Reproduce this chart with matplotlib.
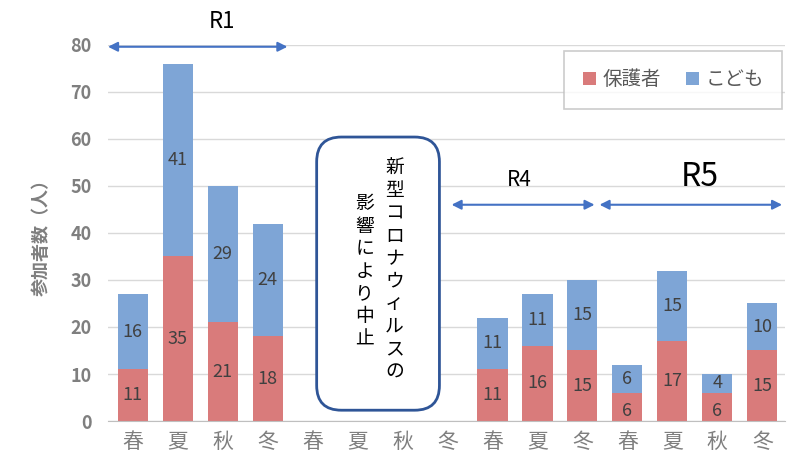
import numpy as np
import matplotlib.pyplot as plt
from matplotlib.patches import FancyBboxPatch

plt.rcParams['font.family'] = ['Noto Sans CJK JP', 'DejaVu Sans']

#%% datos
estaciones = ['春', '夏', '秋', '冬', '春', '夏', '秋', '冬', '春', '夏', '冬', '春', '夏', '秋', '冬']
hogosha = [11, 35, 21, 18, 0, 0, 0, 0, 11, 16, 15, 6, 17, 6, 15]
kodomo = [16, 41, 29, 24, 0, 0, 0, 0, 11, 11, 15, 6, 15, 4, 10]
periodos = ['R1', 'R4', 'R5']
nota = '新型コロナウィルスの影響により中止'

rojo = '#D97B7B'
azul = '#7EA5D6'
gris = '#7F7F7F'
flecha = '#4472C4'

#%% figura
fig = plt.figure(figsize=(8, 4.69), dpi=100)
ax = fig.add_axes([0.135, 0.1023, 0.846, 0.802])

x = np.arange(len(estaciones))
h = np.array(hogosha)
k = np.array(kodomo)
ax.bar(x, h, 0.67, color=rojo, label='保護者', zorder=2)
ax.bar(x, k, 0.67, bottom=h, color=azul, label='こども', zorder=2)

for i in range(len(x)):
    if h[i] > 0:
        ax.text(x[i], h[i] / 2 - 0.8 if h[i] < 8 else h[i] / 2, str(h[i]),
                ha='center', va='center', fontsize=13, color='#404040', zorder=3)
    if k[i] > 0:
        ax.text(x[i], h[i] + k[i] / 2, str(k[i]),
                ha='center', va='center', fontsize=13, color='#404040', zorder=3)

ax.set_xlim(-0.55, 14.5)
ax.set_ylim(0, 80)
ax.set_yticks(range(0, 81, 10))
ax.set_xticks(x)
ax.set_xticklabels(estaciones, fontsize=15, color=gris)
ax.tick_params(axis='y', labelsize=13, colors=gris, length=0, pad=12)
ax.tick_params(axis='x', length=0, pad=7)
for lab in ax.get_yticklabels():
    lab.set_fontweight('bold')
ax.grid(axis='y', color='#D9D9D9', linewidth=1, zorder=0)
for s in ['top', 'right', 'left']:
    ax.spines[s].set_visible(False)
ax.spines['bottom'].set_color('#BFBFBF')
ax.set_ylabel('参加者数（人）', fontsize=13, color=gris, fontweight='bold', labelpad=14)

#%% flechas y etiquetas
flechas = [(-0.55, 3.44, 79.6), (7.09, 10.27, 46), (10.38, 14.44, 46)]
textos = [(1.98, 85, 16), (8.6, 51.3, 15), (12.6, 51.8, 23)]
for (x0, x1, yy), (tx, ty, fs), nom in zip(flechas, textos, periodos):
    ax.annotate('', xy=(x1, yy), xytext=(x0, yy), annotation_clip=False,
                arrowprops=dict(arrowstyle='<|-|>', color=flecha, lw=1.5,
                                mutation_scale=14, shrinkA=0, shrinkB=0))
    ax.text(tx, ty, nom, ha='center', va='center', fontsize=fs, color='black', clip_on=False)

#%% recuadro
caja = FancyBboxPatch((4.09, 2.3), 6.82 - 4.09, 60.4 - 2.3,
                      boxstyle='round,pad=0,rounding_size=0.55', mutation_aspect=9.57,
                      facecolor='white', edgecolor='#2F5597', linewidth=2, zorder=4)
ax.add_patch(caja)
col1 = nota[:10]
col2 = nota[10:]
ax.text(5.82, 56.0, '\n'.join(col1), ha='center', va='top', fontsize=13.5,
        linespacing=1.1, color='black', zorder=5)
ax.text(5.16, 48.5, '\n'.join(col2), ha='center', va='top', fontsize=13.5,
        linespacing=1.1, color='black', zorder=5)

#%% leyenda
leg = ax.legend(loc='upper right', bbox_to_anchor=(0.99, 0.912), bbox_transform=fig.transFigure,
                ncol=2, fontsize=14, frameon=True, fancybox=False, handlelength=0.7,
                handleheight=0.7, handletextpad=0.3, columnspacing=1.3, borderpad=0.95)
leg.get_frame().set_edgecolor('#BFBFBF')
leg.get_frame().set_linewidth(1.2)
for t in leg.get_texts():
    t.set_color('#595959')

fig.savefig('out.png', dpi=100)
